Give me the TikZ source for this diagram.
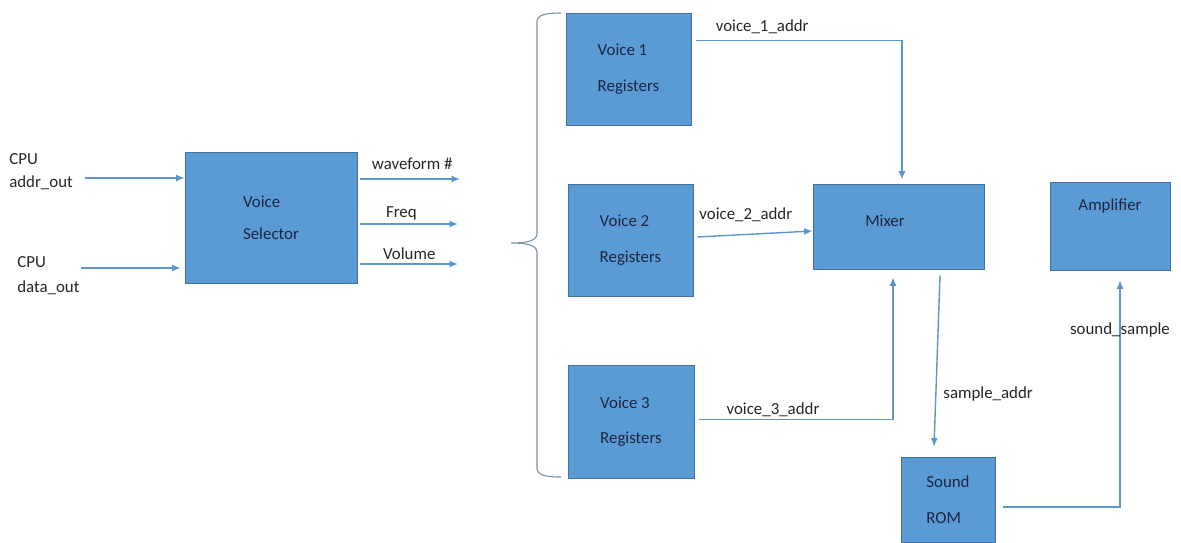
\documentclass[tikz,border=0pt]{standalone}
\usepackage{fontspec}
\setmainfont{Carlito}
\usetikzlibrary{arrows.meta}
\definecolor{boxfill}{RGB}{91,155,213}
\definecolor{boxline}{RGB}{65,113,156}
\definecolor{boxtext}{RGB}{28,38,64}
\definecolor{wire}{RGB}{91,150,205}
\definecolor{bracecol}{RGB}{125,145,170}
\newcommand{\px}{0.025cm}
\tikzset{
  block/.style={draw=boxline, fill=boxfill, line width=0.6pt, text=boxtext, align=left, inner sep=0pt},
  sig/.style={draw=wire, line width=1pt, -{Latex[length=6pt,width=5pt]}},
  lbl/.style={text=black!85, inner sep=0pt, anchor=base}
}
\begin{document}
\begin{tikzpicture}[x=\px, y=-\px, font=\fontsize{12}{14.4}\selectfont]
  \useasboundingbox (0,0) rectangle (1181,542);

  \node[block, minimum width=172*\px, minimum height=131*\px] (sel) at (271,217.5) {Voice\\[8pt]Selector};
  \node[block, minimum width=125*\px, minimum height=112*\px] (v1) at (628.5,69) {Voice 1\\[11pt]Registers};
  \node[block, minimum width=125*\px, minimum height=112*\px] (v2) at (630.5,240) {Voice 2\\[11pt]Registers};
  \node[block, minimum width=126*\px, minimum height=113*\px] (v3) at (631,421.5) {Voice 3\\[11pt]Registers};
  \node[block, minimum width=171*\px, minimum height=85*\px] (mix) at (898.5,226.5) {};
  \node[text=boxtext] (mixname) at (885,221) {Mixer};
  \node[block, minimum width=120*\px, minimum height=88*\px] (amp) at (1110,226) {};
  \node[text=boxtext] (ampname) at (1110,206) {Amplifier};
  \node[block, minimum width=94*\px, minimum height=85*\px] (rom) at (948,499.5) {Sound\\[11pt]ROM};

  \node[text=black!85, align=left, anchor=west, inner sep=0pt] (cpuaddr) at (9,171.5) {CPU\\[2pt]addr\_out};
  \node[text=black!85, align=left, anchor=west, inner sep=0pt] (cpudata) at (17,275.5) {CPU\\[3pt]data\_out};

  \coordinate (addrin) at (85,178);
  \coordinate (datain) at (81,268);
  \coordinate (wfout) at (460,179);
  \coordinate (fqout) at (458,224);
  \coordinate (volout) at (458,264);

  \draw[sig] (addrin) -- (addrin -| sel.west);
  \draw[sig] (datain) -- ([xshift=-4*\px]datain -| sel.west);

  \draw[sig] ([xshift=3*\px]wfout -| sel.east) -- (wfout) node[lbl, pos=0.52, yshift=7pt] {waveform \#};
  \draw[sig] ([xshift=3*\px]fqout -| sel.east) -- (fqout) node[lbl, pos=0.42, yshift=4.3pt] {Freq};
  \draw[sig] ([xshift=3*\px]volout -| sel.east) -- (volout) node[lbl, pos=0.5, yshift=3.5pt] {Volume};

  % brace round the three voices
  \draw[draw=bracecol, line width=0.8pt]
    (561,13) .. controls (545,13) and (537,15) .. (537,22) -- (537,233)
    .. controls (537,240) and (530,243) .. (511,243)
    .. controls (530,243) and (537,246) .. (537,253) -- (537,468)
    .. controls (537,475) and (545,477) .. (561,477);

  \draw[sig] ([xshift=5*\px, yshift=-28*\px]v1.north east) -| ([xshift=3.5*\px, yshift=4*\px]mix.north)
    node[lbl, pos=0.16, yshift=6.4pt] {voice\_1\_addr};
  \draw[sig] ([xshift=4*\px, yshift=3*\px]v2.east) -- ([yshift=-4.5*\px]mix.west)
    node[lbl, pos=0.42, yshift=11pt] {voice\_2\_addr};
  \draw[sig] ([xshift=5*\px, yshift=2*\px]v3.east) -| ([xshift=-5.5*\px, yshift=-8*\px]mix.south)
    node[lbl, pos=0.19, yshift=3.5pt] {voice\_3\_addr};
  \draw[sig] ([xshift=41.5*\px, yshift=-6*\px]mix.south) -- ([xshift=-14*\px, yshift=10*\px]rom.north)
    node[lbl, anchor=base west, pos=0.72, xshift=5pt] {sample\_addr};
  \draw[sig] ([xshift=8*\px, yshift=-7.5*\px]rom.east) -| ([xshift=10*\px, yshift=-10*\px]amp.south)
    node[lbl, pos=0.88] {sound\_sample};
\end{tikzpicture}
\end{document}
